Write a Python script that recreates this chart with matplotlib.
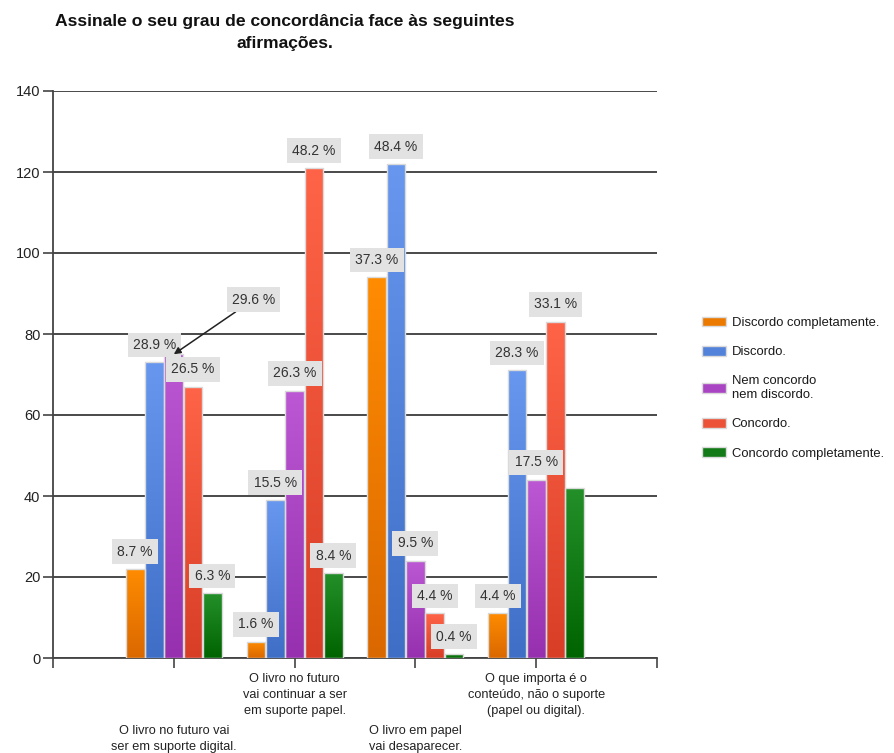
import matplotlib
matplotlib.use("Agg")
import matplotlib.pyplot as plt
import numpy as np
from matplotlib.colors import LinearSegmentedColormap
from matplotlib.patches import Patch

plt.rcParams['font.family'] = ['Liberation Sans', 'DejaVu Sans']

title = "Assinale o seu grau de concordância face às seguintes\nafirmações."

categories = [
    "O livro no futuro vai\nser em suporte digital.",
    "O livro no futuro\nvai continuar a ser\nem suporte papel.",
    "O livro em papel\nvai desaparecer.",
    "O que importa é o\nconteúdo, não o suporte\n(papel ou digital).",
]

series_names = [
    "Discordo completamente.",
    "Discordo.",
    "Nem concordo\nnem discordo.",
    "Concordo.",
    "Concordo completamente.",
]

discordo_completamente = [22, 4, 94, 11]
discordo = [73, 39, 122, 71]
nem_nem = [75, 66, 24, 44]
concordo = [67, 121, 11, 83]
concordo_completamente = [16, 21, 1, 42]

pct_discordo_completamente = ["8.7 %", "1.6 %", "37.3 %", "4.4 %"]
pct_discordo = ["28.9 %", "15.5 %", "48.4 %", "28.3 %"]
pct_nem_nem = ["29.6 %", "26.3 %", "9.5 %", "17.5 %"]
pct_concordo = ["26.5 %", "48.2 %", "4.4 %", "33.1 %"]
pct_concordo_completamente = ["6.3 %", "8.4 %", "0.4 %", None]

values = [discordo_completamente, discordo, nem_nem, concordo, concordo_completamente]
labels = [pct_discordo_completamente, pct_discordo, pct_nem_nem, pct_concordo,
          pct_concordo_completamente]

# (top colour, bottom colour) of each series' vertical gradient
colors = [
    ("#FF8C00", "#DA6800"),
    ("#6797EE", "#3E6EC6"),
    ("#BC58D4", "#9630AE"),
    ("#FF6448", "#D83E26"),
    ("#24902A", "#006400"),
]

fig = plt.figure(figsize=(8.94, 7.53), dpi=100)
ax = fig.add_axes([53 / 894, 1 - 658 / 753, 604 / 894, 567 / 753])

x = np.arange(1, len(categories) + 1)
bar_w = 0.155
step = 0.16
offsets = (np.arange(len(values)) - 2) * step

grad = np.linspace(1, 0, 256).reshape(-1, 1)
for i, (vals, (top_c, bot_c)) in enumerate(zip(values, colors)):
    cmap = LinearSegmentedColormap.from_list(f"g{i}", [bot_c, top_c])
    bars = ax.bar(x + offsets[i], vals, width=bar_w, color=top_c,
                  edgecolor="#DADADA", linewidth=1.0, zorder=3)
    for b in bars:
        bx, by = b.get_x(), b.get_y()
        bw, bh = b.get_width(), b.get_height()
        if bh <= 0:
            continue
        im = ax.imshow(grad, cmap=cmap, aspect="auto",
                       extent=[bx, bx + bw, by, by + bh],
                       origin="upper", zorder=3.1, interpolation="bicubic")
        im.set_clip_path(b)
        b.set_facecolor("none")
        b.set_zorder(3.2)

# value labels above each bar
box = dict(boxstyle="square,pad=0.38", fc="#E2E2E2", ec="none")
for i, vals in enumerate(values):
    for j, v in enumerate(vals):
        txt = labels[i][j]
        if txt is None:
            continue
        xc = x[j] + offsets[i]
        if i == 2 and j == 0:
            # crowded label moved up with a callout arrow
            ax.annotate(txt, xy=(xc, v), xytext=(xc + 0.66, v + 13.5),
                        ha="center", va="center", fontsize=10, color="#333333",
                        bbox=box, zorder=6,
                        arrowprops=dict(arrowstyle="-|>", color="#222222",
                                        lw=1.1, shrinkA=0, shrinkB=0,
                                        mutation_scale=10))
            continue
        ax.annotate(txt, xy=(xc, v), xytext=(0, 12.5), textcoords="offset points",
                    ha="center", va="center", fontsize=10, color="#333333",
                    bbox=box, zorder=6)

ax.set_xlim(0, 5)
ax.set_ylim(0, 140)
ax.set_yticks(np.arange(0, 141, 20))
ax.tick_params(axis="y", length=7, width=1.2, color="#444444", labelsize=10.5,
               labelcolor="#222222", pad=2)
ax.yaxis.grid(True, color="#3A3A3A", linewidth=1.3, zorder=0)
ax.set_axisbelow(True)

ax.set_xticks(np.arange(0, 6))
ax.set_xticklabels([""] + categories + [""], fontsize=9.2, color="#222222",
                   linespacing=1.42)
ax.tick_params(axis="x", length=7, width=1.2, color="#444444", pad=4)
for k, lab in enumerate(ax.get_xticklabels()):
    if k in (1, 3):
        lab.set_y(-0.092)

for s in ("top", "right"):
    ax.spines[s].set_visible(False)
for s in ("left", "bottom"):
    ax.spines[s].set_color("#444444")
    ax.spines[s].set_linewidth(1.3)

fig.text(285 / 894, 1 - 14 / 753, title, ha="center", va="top", fontsize=12.6,
         fontweight="bold", color="#111111", linespacing=1.55)

handles = [Patch(facecolor=c, edgecolor="#DADADA", linewidth=1.0)
           for c in ("#EC7A00", "#5282DA", "#A944C2", "#EC5237", "#127A16")]
leg = fig.legend(handles, series_names, loc="upper left",
                 bbox_to_anchor=(690 / 894, 1 - 305 / 753), frameon=False,
                 fontsize=9.4, handlelength=1.85, handleheight=0.75,
                 handletextpad=0.45, labelspacing=1.3)
for t in leg.get_texts():
    t.set_color("#1A1A1A")

fig.savefig("out.png", dpi=100)
